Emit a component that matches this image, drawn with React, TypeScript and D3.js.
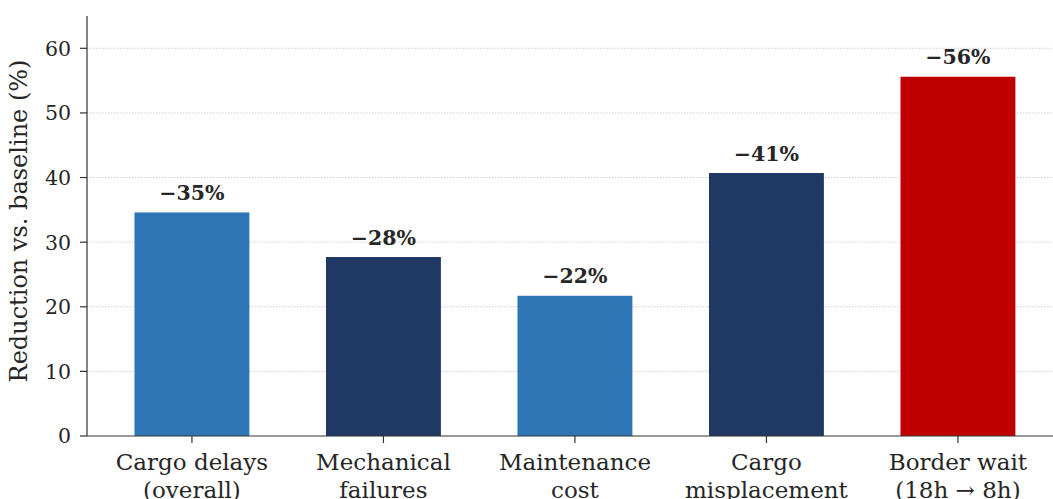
import React from "react";
import * as d3 from "d3";

// Reduction in each metric relative to baseline (%)
const categories: string[][] = [
  ["Cargo delays", "(overall)"],
  ["Mechanical", "failures"],
  ["Maintenance", "cost"],
  ["Cargo", "misplacement"],
  ["Border wait", "(18h \u2192 8h)"],
];
const reductions: number[] = [34.6, 27.7, 21.7, 40.7, 55.6];
const barColors: string[] = ["#2E75B6", "#1F3864", "#2E75B6", "#1F3864", "#C00000"];
const yTicks: number[] = [0, 10, 20, 30, 40, 50, 60];

const W = 1053;
const H = 499;
const FONT = "'DejaVu Serif', serif";

export default function App() {
  const left = 87;
  const bottom = 436;
  const top = 16;

  const x = d3.scaleLinear().domain([-0.548, 4.548]).range([left, left + 5.096 * 191.5]);
  const y = d3.scaleLinear().domain([0, 65]).range([bottom, top]);
  const barW = x(0.6) - x(0);

  return (
    <svg
      width={W}
      height={H}
      viewBox={`0 0 ${W} ${H}`}
      style={{ position: "absolute", left: 0, top: 0, background: "#fff" }}
    >
      {/* dotted horizontal grid */}
      {yTicks.filter((t) => t > 0).map((t) => (
        <line
          key={`g${t}`}
          x1={left}
          x2={W}
          y1={y(t)}
          y2={y(t)}
          stroke="#c8c8c8"
          strokeWidth={0.9}
          strokeDasharray="1.5,1.5"
        />
      ))}

      {/* bars */}
      {reductions.map((v, i) => (
        <rect
          key={`b${i}`}
          x={x(i) - barW / 2}
          y={y(v)}
          width={barW}
          height={y(0) - y(v)}
          fill={barColors[i]}
        />
      ))}

      {/* value labels */}
      {reductions.map((v, i) => (
        <text
          key={`v${i}`}
          x={x(i)}
          y={y(v) - 12.5}
          textAnchor="middle"
          fontFamily={FONT}
          fontWeight="bold"
          fontSize={20.5}
          fill="#262626"
        >
          {`\u2212${Math.round(v)}%`}
        </text>
      ))}

      {/* axes spines */}
      <line x1={left} x2={left} y1={top} y2={bottom} stroke="#333" strokeWidth={1.2} />
      <line x1={left} x2={W} y1={bottom} y2={bottom} stroke="#333" strokeWidth={1.2} />

      {/* y ticks */}
      {yTicks.map((t) => (
        <g key={`yt${t}`}>
          <line x1={left - 7} x2={left} y1={y(t)} y2={y(t)} stroke="#333" strokeWidth={1.2} />
          <text
            x={left - 16}
            y={y(t)}
            dy="0.36em"
            textAnchor="end"
            fontFamily={FONT}
            fontSize={20.5}
            fill="#262626"
          >
            {t}
          </text>
        </g>
      ))}

      {/* x ticks and category labels */}
      {categories.map((lines, i) => (
        <g key={`xt${i}`}>
          <line x1={x(i)} x2={x(i)} y1={bottom} y2={bottom + 7} stroke="#333" strokeWidth={1.2} />
          {lines.map((ln, j) => (
            <text
              key={j}
              x={x(i)}
              y={bottom + 34 + j * 28}
              textAnchor="middle"
              fontFamily={FONT}
              fontSize={23}
              fill="#262626"
            >
              {ln}
            </text>
          ))}
        </g>
      ))}

      {/* y axis title */}
      <text
        transform={`translate(27, ${(top + bottom) / 2 - 5}) rotate(-90)`}
        textAnchor="middle"
        fontFamily={FONT}
        fontSize={24}
        fill="#262626"
      >
        Reduction vs. baseline (%)
      </text>
    </svg>
  );
}
